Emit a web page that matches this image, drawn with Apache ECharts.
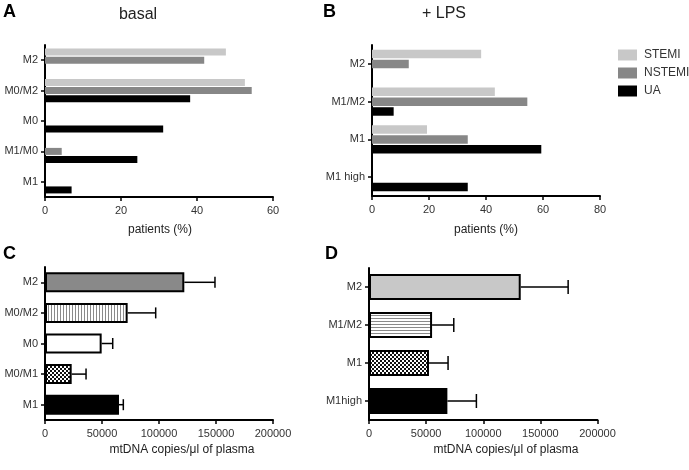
<!DOCTYPE html>
<html>
<head>
<meta charset="utf-8">
<script src="https://cdn.jsdelivr.net/npm/echarts@6/dist/echarts.min.js"></script>
<style>html,body{margin:0;padding:0;background:#fff;}#c{width:689px;height:470px;}</style>
</head>
<body>
<div id="c"></div>
<script>
// ---------- data ----------
var groups = ['STEMI', 'NSTEMI', 'UA'];
var catA = ['M2', 'M0/M2', 'M0', 'M1/M0', 'M1'];
var aSTEMI = [47.6, 52.6, 0, 0, 0];
var aNSTEMI = [41.9, 54.4, 0, 4.4, 0];
var aUA = [0, 38.2, 31.1, 24.3, 7.0];

var catB = ['M2', 'M1/M2', 'M1', 'M1 high'];
var bSTEMI = [38.3, 43.1, 19.3, 0];
var bNSTEMI = [12.9, 54.5, 33.6, 0];
var bUA = [0, 7.6, 59.4, 33.6];

var catC = ['M2', 'M0/M2', 'M0', 'M0/M1', 'M1'];
var cMean = [122200, 72500, 49700, 23400, 64900];
var cErr = [26900, 24600, 9700, 12600, 3800];

var catD = ['M2', 'M1/M2', 'M1', 'M1high'];
var dMean = [132800, 55200, 52500, 68600];
var dErr = [41500, 19000, 16700, 25400];

// ---------- patterns ----------
function pat(w, h, draw) {
  var cv = document.createElement('canvas');
  cv.width = w; cv.height = h;
  var g = cv.getContext('2d');
  g.fillStyle = '#fff'; g.fillRect(0, 0, w, h);
  draw(g);
  return { image: cv, repeat: 'repeat' };
}
var vStripes = pat(3, 3, function (g) { g.fillStyle = '#8a8a8a'; g.fillRect(0, 0, 1, 3); });
var hStripes = pat(3, 3, function (g) { g.fillStyle = '#8a8a8a'; g.fillRect(0, 0, 3, 1); });
var checker = pat(4, 4, function (g) { g.fillStyle = '#111'; g.fillRect(0, 0, 2, 2); g.fillRect(2, 2, 2, 2); });

var colSTEMI = '#c8c8c8', colNSTEMI = '#878787', colUA = '#000000';
var fillsC = ['#898989', vStripes, '#ffffff', checker, '#000000'];
var fillsD = ['#c8c8c8', hStripes, checker, '#000000'];

var FONT = "'Liberation Sans', Arial, sans-serif";
var txtCol = '#333';

function valAxis(idx, max, interval) {
  return {
    type: 'value', gridIndex: idx, min: 0, max: max, interval: interval,
    splitLine: { show: false },
    axisLine: { show: true, lineStyle: { color: '#000', width: 2 } },
    axisTick: { show: true, length: 4, lineStyle: { color: '#000', width: 1.5 } },
    axisLabel: { color: txtCol, fontFamily: FONT, fontSize: 11, margin: 8,
      formatter: function (v) { return String(v); } }
  };
}
function catAxis(idx, cats) {
  return {
    type: 'category', gridIndex: idx, data: cats, inverse: true,
    axisLine: { show: true, lineStyle: { color: '#000', width: 2 } },
    axisTick: { show: true, alignWithLabel: true, length: 4, lineStyle: { color: '#000', width: 1.5 } },
    axisLabel: { color: txtCol, fontFamily: FONT, fontSize: 11, margin: 7 }
  };
}
function barS(name, data, color, axisIdx, w) {
  return {
    name: name, type: 'bar', xAxisIndex: axisIdx, yAxisIndex: axisIdx,
    data: data, barWidth: w, barGap: '16%', itemStyle: { color: color },
    silent: true, animation: false
  };
}
function hatchBars(means, fills, axisIdx, w) {
  return {
    type: 'bar', xAxisIndex: axisIdx, yAxisIndex: axisIdx, barWidth: w, z: 3,
    data: means.map(function (v, i) {
      return { value: v, itemStyle: { color: fills[i], borderColor: '#000', borderWidth: 2 } };
    }),
    silent: true, animation: false
  };
}
function errBars(means, errs, axisIdx, cap) {
  return {
    type: 'custom', xAxisIndex: axisIdx, yAxisIndex: axisIdx, z: 2, silent: true, animation: false,
    encode: { x: [0, 2], y: 1 },
    data: means.map(function (v, i) { return [v, i, v + errs[i]]; }),
    renderItem: function (params, api) {
      var s = api.coord([api.value(0), api.value(1)]);
      var e = api.coord([api.value(2), api.value(1)]);
      var st = { stroke: '#000', lineWidth: 1.5 };
      return {
        type: 'group', children: [
          { type: 'line', shape: { x1: s[0], y1: s[1], x2: e[0], y2: e[1] }, style: st },
          { type: 'line', shape: { x1: e[0], y1: e[1] - cap / 2, x2: e[0], y2: e[1] + cap / 2 }, style: st }
        ]
      };
    }
  };
}
function txt(t, x, y, size, bold, align) {
  return {
    type: 'text', x: x, y: y, silent: true,
    style: {
      text: t, fontFamily: FONT, fontSize: size, fontWeight: bold ? 'bold' : 'normal',
      fill: bold ? '#000' : '#222', textAlign: align || 'center', textVerticalAlign: 'middle'
    }
  };
}

var chart = echarts.init(document.getElementById('c'), null, { renderer: 'canvas' });
chart.setOption({
  animation: false,
  backgroundColor: '#fff',
  grid: [
    { left: 45, top: 45, width: 228, height: 152 },
    { left: 372, top: 45, width: 228, height: 151 },
    { left: 45, top: 267, width: 228, height: 153 },
    { left: 369, top: 268, width: 228.5, height: 152 }
  ],
  xAxis: [
    valAxis(0, 60, 20), valAxis(1, 80, 20), valAxis(2, 200000, 50000), valAxis(3, 200000, 50000)
  ],
  yAxis: [catAxis(0, catA), catAxis(1, catB), catAxis(2, catC), catAxis(3, catD)],
  legend: {
    data: groups, orient: 'vertical', left: 613, top: 44, itemWidth: 19, itemHeight: 11, itemGap: 6,
    icon: 'rect', selectedMode: false,
    textStyle: { color: txtCol, fontFamily: FONT, fontSize: 12, padding: [0, 0, 0, 2] }
  },
  series: [
    barS('STEMI', aSTEMI, colSTEMI, 0, 7),
    barS('NSTEMI', aNSTEMI, colNSTEMI, 0, 7),
    barS('UA', aUA, colUA, 0, 7),
    barS('STEMI', bSTEMI, colSTEMI, 1, 8.5),
    barS('NSTEMI', bNSTEMI, colNSTEMI, 1, 8.5),
    barS('UA', bUA, colUA, 1, 8.5),
    errBars(cMean, cErr, 2, 11),
    hatchBars(cMean, fillsC, 2, 20),
    errBars(dMean, dErr, 3, 14),
    hatchBars(dMean, fillsD, 3, 26)
  ],
  graphic: [
    txt('A', 3, 12, 18, true, 'left'),
    txt('B', 323, 12, 18, true, 'left'),
    txt('C', 3, 254, 18, true, 'left'),
    txt('D', 325, 254, 18, true, 'left'),
    txt('basal', 138, 15, 16, false),
    txt('+ LPS', 444, 14, 16, false),
    txt('patients (%)', 160, 230, 12, false),
    txt('patients (%)', 486, 230, 12, false),
    txt('mtDNA copies/\u03bcl of plasma', 182, 450, 12, false),
    txt('mtDNA copies/\u03bcl of plasma', 506, 450, 12, false)
  ]
});
</script>
</body>
</html>
